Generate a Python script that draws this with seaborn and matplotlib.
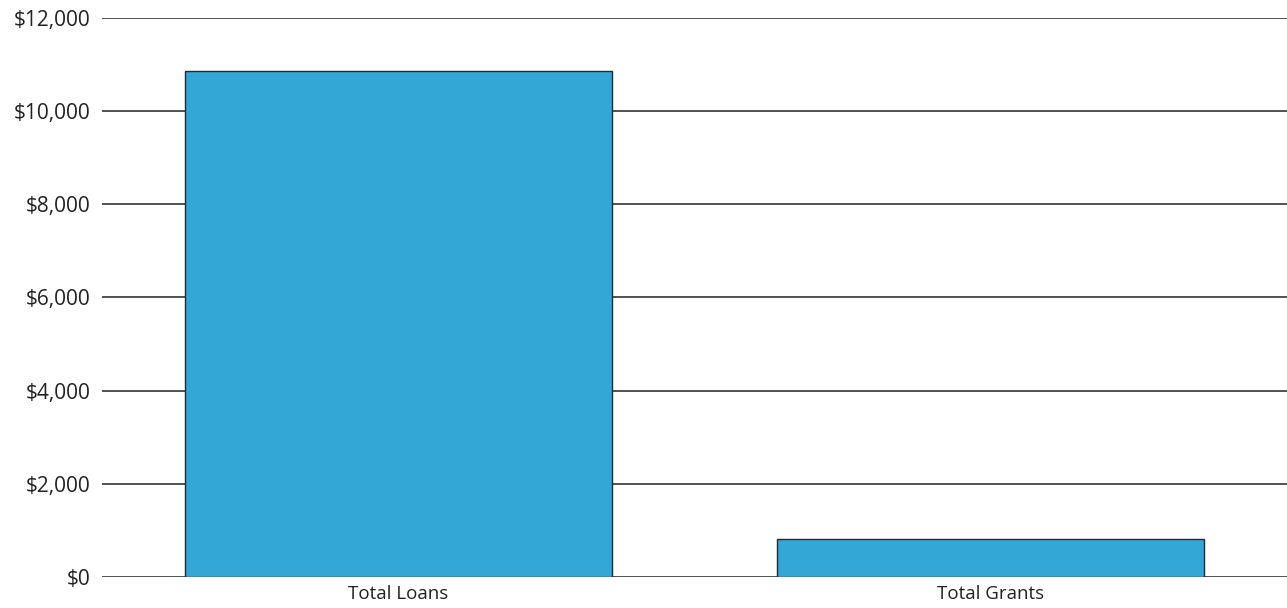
import matplotlib
matplotlib.use("Agg")
import matplotlib.pyplot as plt
import seaborn as sns
import pandas as pd
from matplotlib.ticker import FuncFormatter

# data
categories = ["Total Loans", "Total Grants"]
amounts = [10875, 800]
y_ticks = [0, 2000, 4000, 6000, 8000, 10000, 12000]

sns.set_style("white")
plt.rcParams["font.family"] = ["Open Sans", "DejaVu Sans"]

df = pd.DataFrame({"category": categories, "amount": amounts})

fig = plt.figure(figsize=(12.87, 6.08), dpi=100)
ax = fig.add_axes([0.0793, 0.0515, 0.9207, 0.9185])

sns.barplot(data=df, x="category", y="amount", color="#33A8D6", saturation=1,
            width=0.72, edgecolor="#1E2B38", linewidth=1, ax=ax, zorder=3)

ax.set_ylim(0, 12000)
ax.set_xlim(-0.5, 1.5)
ax.set_yticks(y_ticks)
ax.yaxis.set_major_formatter(FuncFormatter(lambda v, p: "${:,.0f}".format(v)))
ax.grid(axis="y", color="#222222", linewidth=1.1, zorder=0)
ax.grid(axis="x", visible=False)
for s in ax.spines.values():
    s.set_visible(False)
ax.tick_params(axis="y", length=0, pad=8.5, labelsize=15, labelcolor="#222222")
ax.tick_params(axis="x", length=0, pad=6, labelsize=13.5, labelcolor="#222222")
ax.set_xlabel("")
ax.set_ylabel("")

fig.savefig("out.png", dpi=100)
plt.close()
